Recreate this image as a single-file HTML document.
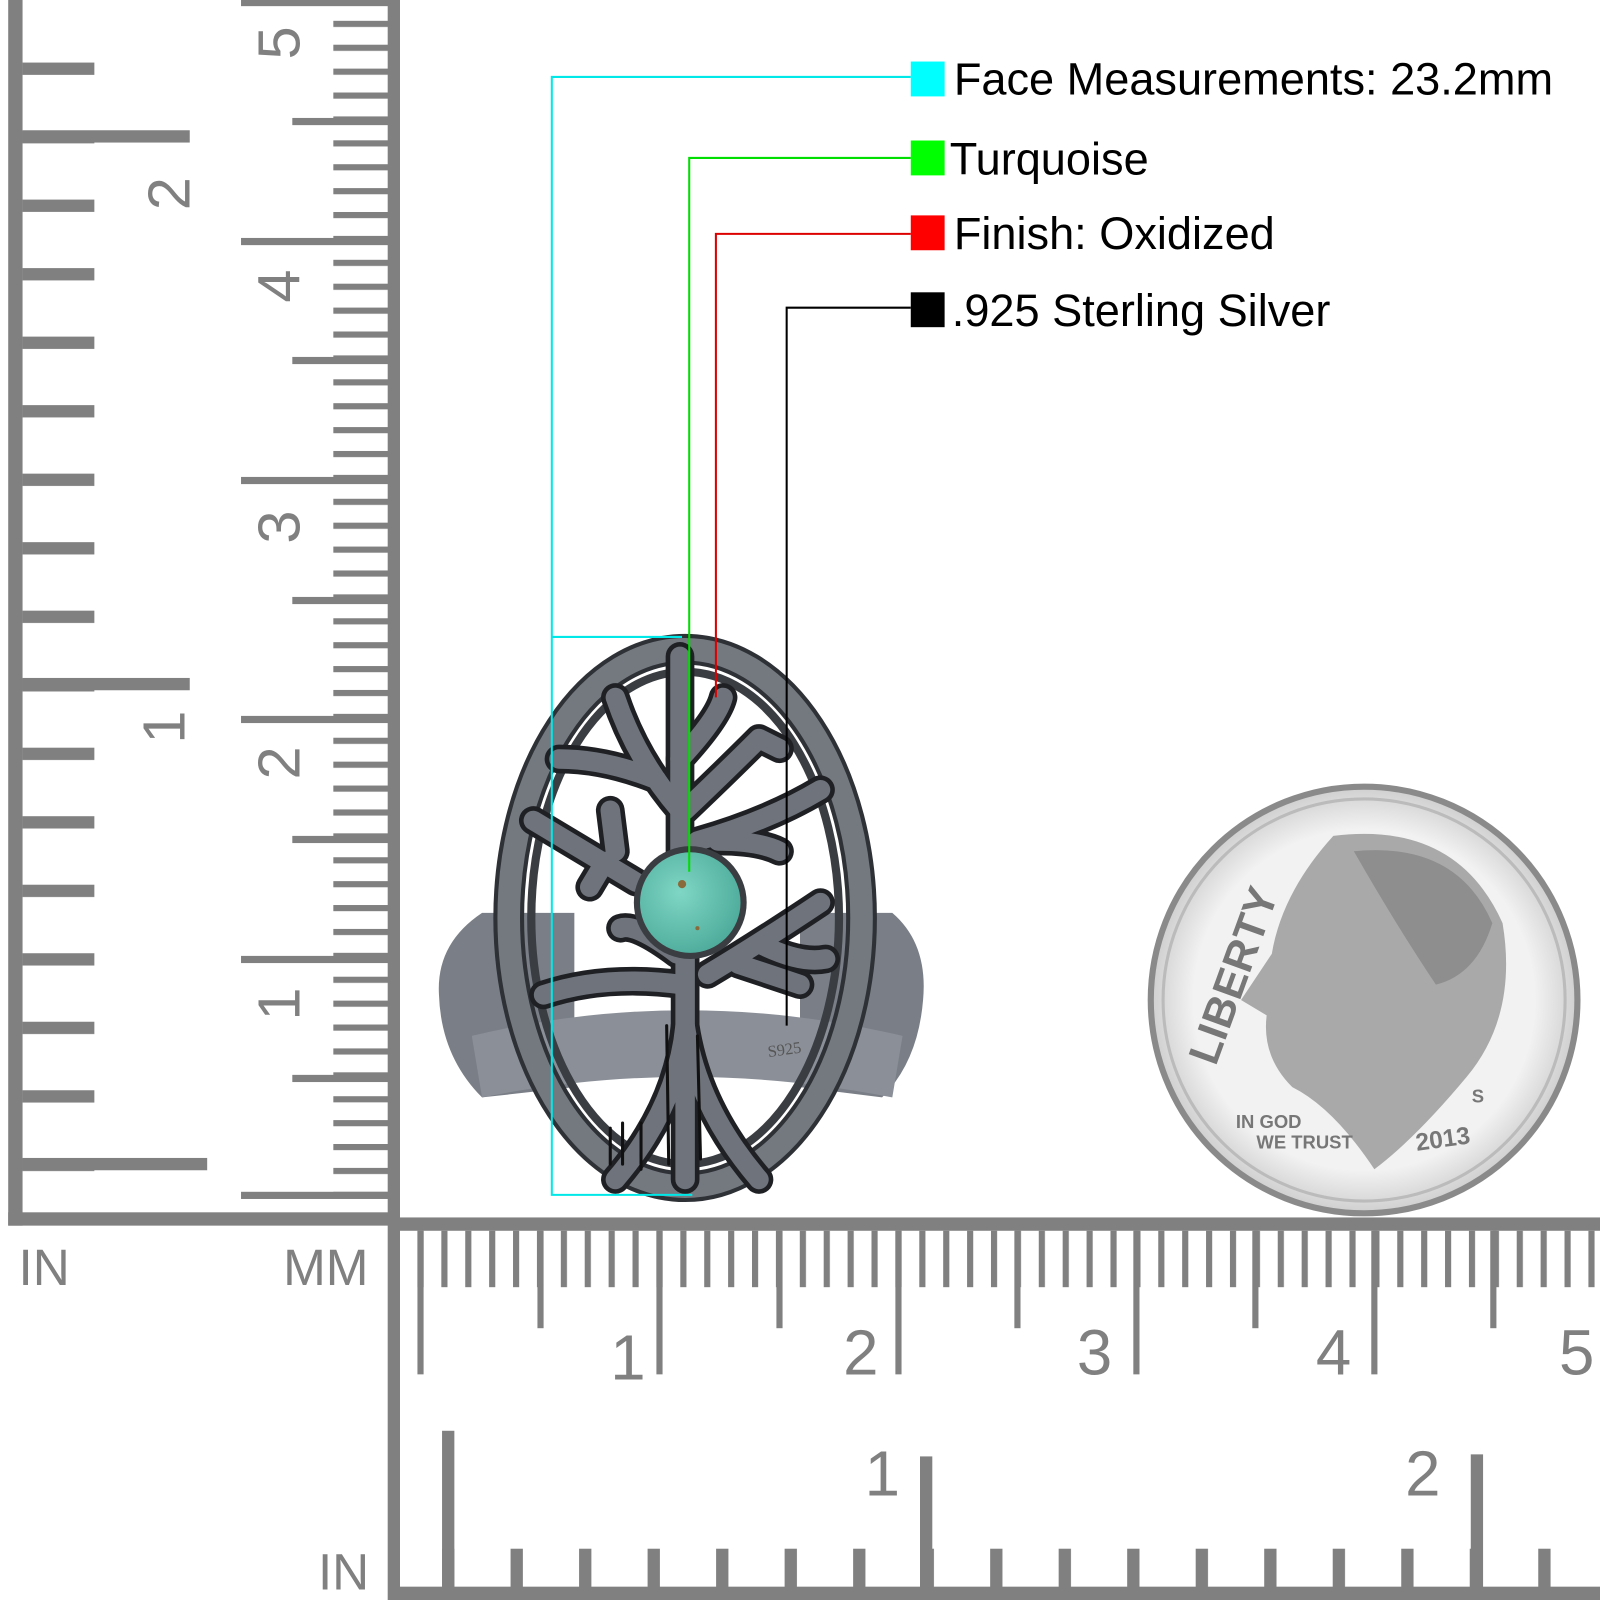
<!DOCTYPE html>
<html><head><meta charset="utf-8"><style>html,body{margin:0;padding:0;background:#fff}svg{display:block}</style></head>
<body>
<svg width="1600" height="1600" viewBox="0 0 1560 1560" xmlns="http://www.w3.org/2000/svg">
<defs>
<pattern id="lmm" patternUnits="userSpaceOnUse" x="0" y="1162" width="1560" height="23.3"><rect x="0" y="0" width="1560" height="6" fill="#808080"/></pattern>
<pattern id="lin" patternUnits="userSpaceOnUse" x="0" y="61" width="1560" height="66.8"><rect x="0" y="0" width="1560" height="12" fill="#808080"/></pattern>
<pattern id="bmm" patternUnits="userSpaceOnUse" x="407" y="0" width="23.3" height="1560"><rect x="0" y="0" width="6" height="1560" fill="#808080"/></pattern>
<pattern id="bin" patternUnits="userSpaceOnUse" x="431" y="0" width="66.8" height="1560"><rect x="0" y="0" width="12" height="1560" fill="#808080"/></pattern>
<radialGradient id="stone" cx="0.4" cy="0.4" r="0.7"><stop offset="0" stop-color="#7fd6c4"/><stop offset="1" stop-color="#4aa898"/></radialGradient>
<radialGradient id="coin" cx="0.5" cy="0.5" r="0.5"><stop offset="0.8" stop-color="#f2f2f2"/><stop offset="1" stop-color="#cfcfcf"/></radialGradient>
</defs>
<g fill="#808080" font-family="Liberation Sans, sans-serif">
<rect x="8" y="0" width="14" height="1195"/>
<rect x="8" y="1182" width="377" height="13"/>
<rect x="378" y="0" width="12" height="1560"/>
<rect x="22" y="40" width="70" height="1120" fill="url(#lin)"/>
<rect x="22" y="127" width="163" height="12"/>
<rect x="22" y="661" width="163" height="12"/>
<rect x="22" y="1129" width="180" height="12"/>
<rect x="325" y="0" width="55" height="1170" fill="url(#lmm)"/>
<rect x="235" y="1162" width="145" height="7"/>
<rect x="235" y="932" width="145" height="7"/>
<rect x="235" y="698" width="145" height="7"/>
<rect x="235" y="465" width="145" height="7"/>
<rect x="235" y="232" width="145" height="7"/>
<rect x="235" y="0" width="145" height="6"/>
<rect x="285" y="1048" width="95" height="7"/>
<rect x="285" y="815" width="95" height="7"/>
<rect x="285" y="582" width="95" height="7"/>
<rect x="285" y="348" width="95" height="7"/>
<rect x="285" y="115" width="95" height="7"/>
<g font-size="58">
<text transform="translate(185,205) rotate(-90)">2</text>
<text transform="translate(180,725) rotate(-90)">1</text>
<text transform="translate(292,995) rotate(-90)">1</text>
<text transform="translate(292,760) rotate(-90)">2</text>
<text transform="translate(292,530) rotate(-90)">3</text>
<text transform="translate(292,295) rotate(-90)">4</text>
<text transform="translate(292,58) rotate(-90)">5</text>
</g>
<text x="18" y="1253" font-size="50">IN</text>
<text x="276" y="1253" font-size="50">MM</text>
<text x="310" y="1550" font-size="50">IN</text>
<rect x="385" y="1187" width="1175" height="13"/>
<rect x="398" y="1200" width="1162" height="55" fill="url(#bmm)"/>
<rect x="407" y="1200" width="6" height="140"/>
<rect x="640" y="1200" width="6" height="140"/>
<rect x="873" y="1200" width="6" height="140"/>
<rect x="1105" y="1200" width="6" height="140"/>
<rect x="1337" y="1200" width="6" height="140"/>
<rect x="524" y="1200" width="6" height="95"/>
<rect x="757" y="1200" width="6" height="95"/>
<rect x="989" y="1200" width="6" height="95"/>
<rect x="1221" y="1200" width="6" height="95"/>
<rect x="1453" y="1200" width="6" height="95"/>
<g font-size="62">
<text x="595" y="1345">1</text>
<text x="822" y="1340">2</text>
<text x="1050" y="1340">3</text>
<text x="1283" y="1340">4</text>
<text x="1520" y="1340">5</text>
<text x="843" y="1458">1</text>
<text x="1370" y="1458">2</text>
</g>
<rect x="380" y="1547" width="1180" height="13"/>
<rect x="431" y="1510" width="1129" height="40" fill="url(#bin)"/>
<rect x="431" y="1395" width="12" height="160"/>
<rect x="897" y="1420" width="12" height="130"/>
<rect x="1434" y="1418" width="12" height="132"/>
</g>
<!-- ring band -->
<path d="M470,890 Q425,920 428,970 Q430,1030 470,1070 L560,1060 L560,890Z" fill="#7a7f87"/>
<path d="M870,890 Q905,920 900,975 Q895,1035 860,1070 L780,1060 L780,890Z" fill="#7a7f87"/>
<path d="M460,1010 Q668,960 880,1010 L870,1070 Q668,1030 470,1070Z" fill="#8b9098"/>
<!-- oval -->
<ellipse cx="668" cy="895" rx="172" ry="262" fill="none" stroke="#2e3136" stroke-width="30"/>
<ellipse cx="668" cy="895" rx="172" ry="262" fill="none" stroke="#747980" stroke-width="22"/>
<ellipse cx="668" cy="895" rx="150" ry="240" fill="none" stroke="#3a3d42" stroke-width="8"/>
<g fill="none" stroke-linecap="round" stroke-linejoin="round">
<g stroke="#1e2024" stroke-width="28">
<path d="M668,1150 L668,900"/>
<path d="M600,1150 Q660,1080 668,1000 Q680,1080 740,1150"/>
<path d="M663,880 L663,640"/>
<path d="M663,790 Q620,740 600,680"/>
<path d="M640,760 Q590,740 545,740"/>
<path d="M663,740 Q700,700 705,680"/>
<path d="M668,790 Q710,750 740,720 L760,730"/>
<path d="M680,820 Q750,800 800,770"/>
<path d="M620,860 Q570,830 520,800"/>
<path d="M590,840 L575,865"/>
<path d="M600,830 L595,790"/>
<path d="M665,960 Q590,950 530,970"/>
<path d="M660,930 Q620,900 605,905"/>
<path d="M690,950 Q740,920 800,880"/>
<path d="M740,920 Q780,940 805,935"/>
<path d="M720,940 L780,960"/>
<path d="M700,820 Q740,820 760,830"/>
</g>
<g stroke="#6f747c" stroke-width="19">
<path d="M668,1150 L668,900"/>
<path d="M600,1150 Q660,1080 668,1000 Q680,1080 740,1150"/>
<path d="M663,880 L663,640"/>
<path d="M663,790 Q620,740 600,680"/>
<path d="M640,760 Q590,740 545,740"/>
<path d="M663,740 Q700,700 705,680"/>
<path d="M668,790 Q710,750 740,720 L760,730"/>
<path d="M680,820 Q750,800 800,770"/>
<path d="M620,860 Q570,830 520,800"/>
<path d="M590,840 L575,865"/>
<path d="M600,830 L595,790"/>
<path d="M665,960 Q590,950 530,970"/>
<path d="M660,930 Q620,900 605,905"/>
<path d="M690,950 Q740,920 800,880"/>
<path d="M740,920 Q780,940 805,935"/>
<path d="M720,940 L780,960"/>
<path d="M700,820 Q740,820 760,830"/>
</g>
<path d="M595,1100 L595,1135 M607,1095 L607,1135 M625,1095 L625,1140 M650,1000 L652,1135 M680,1010 L683,1130" stroke="#111" stroke-width="3"/>
</g>
<text x="748" y="1028" font-family="Liberation Serif, serif" font-size="16" fill="#555" transform="rotate(-8 768 1020)">S925</text>
<circle cx="673" cy="880" r="55" fill="#3a3d42"/>
<circle cx="673" cy="880" r="49" fill="url(#stone)"/>
<circle cx="665" cy="862" r="4" fill="#8a6a3a"/><circle cx="680" cy="905" r="2" fill="#8a6a3a"/>
<g fill="none" stroke-width="2">
<path d="M888,75 H538 V1165 H675 M538,621 H665" stroke="#00e8e8"/>
<path d="M888,154 H672 V850" stroke="#00dd00"/>
<path d="M888,228 H698 V680" stroke="#dd0000"/>
<path d="M888,300 H767 V1000" stroke="#000"/>
</g>
<rect x="888" y="60" width="33" height="34" fill="#00ffff"/>
<rect x="888" y="137" width="33" height="34" fill="#00ff00"/>
<rect x="888" y="210" width="33" height="34" fill="#ff0000"/>
<rect x="888" y="285" width="33" height="34" fill="#000"/>
<g font-family="Liberation Sans, sans-serif" font-size="44" fill="#000">
<text x="930" y="92">Face Measurements: 23.2mm</text>
<text x="926" y="170">Turquoise</text>
<text x="930" y="243">Finish: Oxidized</text>
<text x="928" y="318">.925 Sterling Silver</text>
</g>
<circle cx="1330" cy="975" r="208" fill="url(#coin)" stroke="#8a8a8a" stroke-width="6"/>
<circle cx="1330" cy="975" r="196" fill="none" stroke="#bbb" stroke-width="3"/>
<path d="M1300,815 Q1420,800 1465,900 Q1480,990 1430,1050 Q1380,1110 1340,1140 Q1300,1080 1260,1060 Q1230,1030 1235,990 L1210,975 L1240,930 Q1250,870 1300,815Z" fill="#a9a9a9"/>
<path d="M1320,830 Q1420,820 1455,900 Q1440,950 1400,960 Q1360,900 1320,830Z" fill="#8e8e8e"/>
<g font-family="Liberation Sans, sans-serif" font-weight="bold" fill="#777">
<text x="1150" y="1030" font-size="42" transform="rotate(-70 1175 1010)">LIBERTY</text>
<text x="1205" y="1100" font-size="18">IN GOD</text>
<text x="1225" y="1120" font-size="18">WE TRUST</text>
<text x="1380" y="1118" font-size="24" transform="rotate(-8 1410 1110)">2013</text>
<text x="1435" y="1075" font-size="18">S</text>
</g>
</svg>
</body></html>
